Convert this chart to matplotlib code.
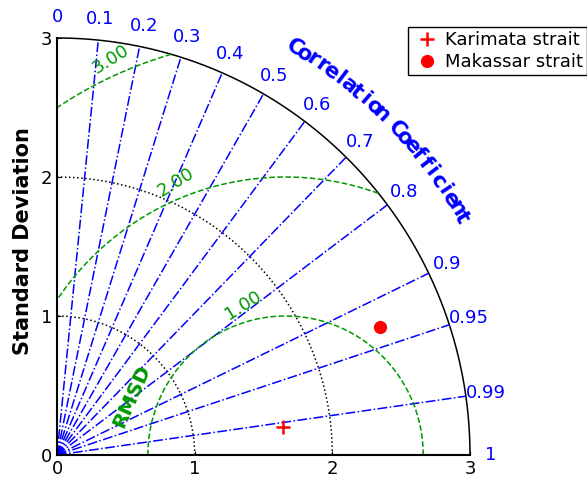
import numpy as np
import matplotlib
matplotlib.use('Agg')
import matplotlib.pyplot as plt

# statistics of each strait against the reference series
names = ['Karimata strait', 'Makassar strait']
stdevs = [1.654, 2.521]
ccoefs = [0.9924, 0.9306]
ref_std = 1.66

corr_ticks = [0, 0.1, 0.2, 0.3, 0.4, 0.5, 0.6, 0.7, 0.8, 0.9, 0.95, 0.99, 1]
std_ticks = [0, 1, 2, 3]
rms_ticks = [1.0, 2.0, 3.0]
std_max = 3.0

blue = '#0000ff'
green = (0.0, 0.6, 0.0)

fig = plt.figure(figsize=(5.87, 4.82), dpi=100)
ax = fig.add_axes([57 / 587, 1 - 455 / 482, 413 / 587, 417 / 482])
ax.set_xlim(0, std_max)
ax.set_ylim(0, std_max)
for side in ['top', 'right']:
    ax.spines[side].set_visible(False)
for side in ['left', 'bottom']:
    ax.spines[side].set_linewidth(1.5)
ax.set_xticks(std_ticks)
ax.set_yticks(std_ticks)
ax.tick_params(direction='in', length=3, labelsize=13)

th = np.linspace(0, np.pi / 2, 400)

# outer arc and standard deviation circles
ax.plot(std_max * np.cos(th), std_max * np.sin(th), color='k', lw=1.1, clip_on=False)
for s in std_ticks[1:-1]:
    ax.plot(s * np.cos(th), s * np.sin(th), color='k', ls=':', lw=1.1)

# correlation rays and their labels
for c in corr_ticks:
    a = np.arccos(c)
    if 0 < c < 1:
        ax.plot([0, std_max * np.cos(a)], [0, std_max * np.sin(a)],
                color=blue, ls='-.', lw=1.1)
    ax.text(3.15 * np.cos(a), 3.15 * np.sin(a), '%g' % c, color=blue,
            fontsize=13, ha='center', va='center', clip_on=False)

# curved axis title for the correlation
title = 'Correlation Coefficient'
for ch, a in zip(title, np.linspace(59.5, 30.2, len(title))):
    t = np.radians(a)
    ax.text(3.40 * np.cos(t), 3.40 * np.sin(t), ch, rotation=a - 90,
            rotation_mode='anchor', ha='center', va='center', color=blue,
            fontsize=15.5, fontweight='bold', clip_on=False)

# centred RMS difference circles
phi = np.linspace(0, np.pi, 600)
for r, la in zip(rms_ticks, [106, 112, 114]):
    x = ref_std + r * np.cos(phi)
    y = r * np.sin(phi)
    keep = (x >= 0) & (np.hypot(x, y) <= std_max)
    ax.plot(np.where(keep, x, np.nan), np.where(keep, y, np.nan),
            color=green, ls='--', lw=1.1)
    t = np.radians(la)
    ax.text(ref_std + (r + 0.12) * np.cos(t), (r + 0.12) * np.sin(t),
            '%.2f' % r, color=green, fontsize=13, rotation=32,
            ha='center', va='center')
ax.text(0.54, 0.42, 'RMSD', color=green, fontsize=14.5, fontweight='bold',
        rotation=66, ha='center', va='center')

# model points
styles = [dict(marker='+', ms=10, mew=1.8), dict(marker='o', ms=9.5, mew=0)]
for name, s, c, st in zip(names, stdevs, ccoefs, styles):
    a = np.arccos(c)
    ax.plot(s * np.cos(a), s * np.sin(a), ls='none', color='red', label=name,
            clip_on=False, **st)

fig.text(23 / 587, 241 / 482, 'Standard Deviation', rotation=90,
         fontsize=15, fontweight='bold', ha='center', va='center')

leg = ax.legend(loc='upper left', bbox_to_anchor=(408 / 587, 1 - 27 / 482),
                bbox_transform=fig.transFigure, borderaxespad=0,
                fontsize=13, fancybox=False, edgecolor='k', framealpha=1,
                handlelength=1.65, handletextpad=0.2, labelspacing=0.22,
                borderpad=0.22)
leg.get_frame().set_linewidth(1)

fig.savefig('out.png', dpi=100)
